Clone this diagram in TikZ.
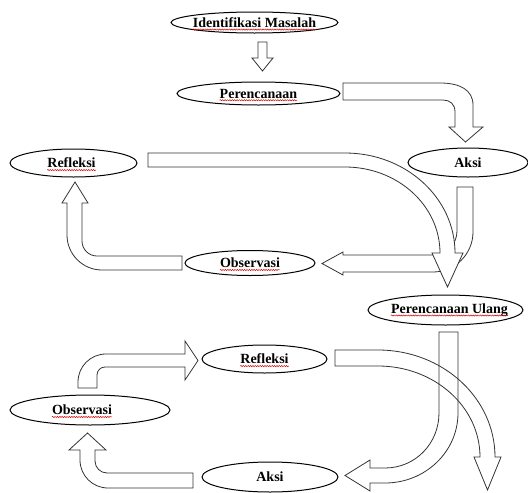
\documentclass[tikz,border=0pt]{standalone}
\usepackage{fontspec}
\setmainfont{Liberation Serif}
\usetikzlibrary{shapes.geometric,decorations.pathmorphing}
\tikzset{
  ell/.style={draw=black, line width=1pt, ellipse, inner sep=0pt},
  lbl/.style={inner sep=0pt, font=\bfseries\fontsize{14}{16}\selectfont},
  squig/.style={draw=red!85!black, line width=0.5pt, decorate, decoration={snake, amplitude=0.6pt, segment length=2.4pt}},
  blockarrow/.style={draw=black!80, line width=0.8pt, line join=miter},
}
\begin{document}
\begin{tikzpicture}[x=1pt,y=-1pt]
\useasboundingbox (0,0) rectangle (528,493);
% ellipses
\node[ell, minimum width=167pt, minimum height=21pt] (idm) at (254.5,22.5) {};
\node[ell, minimum width=163pt, minimum height=23pt] (per) at (258.5,93.5) {};
\node[ell, minimum width=120pt, minimum height=29pt] (aksi1) at (468,162.5) {};
\node[ell, minimum width=127pt, minimum height=28pt] (ref1) at (73.5,163) {};
\node[ell, minimum width=130pt, minimum height=25pt] (obs1) at (250,263) {};
\node[ell, minimum width=155pt, minimum height=30pt] (pu) at (445.5,310) {};
\node[ell, minimum width=125pt, minimum height=28pt] (ref2) at (264.5,359) {};
\node[ell, minimum width=160pt, minimum height=30pt] (obs2) at (90,410) {};
\node[ell, minimum width=136pt, minimum height=30pt] (aksi2) at (270,477) {};
% labels
\node[lbl] (tidm) at (idm) {Identifikasi Masalah};
\node[lbl] (tper) at (per) {Perencanaan};
\node[lbl] (taksi1) at (aksi1) {Aksi};
\node[lbl] (tref1) at ([xshift=-2pt]ref1.center) {Refleksi};
\node[lbl] (tobs1) at (obs1) {Observasi};
\node[lbl] (tpu) at ([xshift=4pt]pu.center) {Perencanaan Ulang};
\node[lbl] (tref2) at (ref2) {Refleksi};
\node[lbl] (tobs2) at ([xshift=-8pt]obs2.center) {Observasi};
\node[lbl] (taksi2) at (aksi2) {Aksi};
% spell-check squiggles
\foreach \t in {tidm,tper,tref1,tobs1,tpu,tref2,tobs2}{
  \draw[squig] ([yshift=-2.2pt]\t.base west) -- ([yshift=-2.2pt]\t.base east);
}
% Identifikasi -> Perencanaan
\draw[blockarrow] (258,42) -- (267,42) -- (267,58) -- (273,58) -- (262.5,71) -- (252,58) -- (258,58) -- cycle;
% Perencanaan -> Aksi
\draw[blockarrow] (343,83) -- (440,83) .. controls (460,83) and (473,90) .. (473,105) -- (473,127) -- (483,127) -- (465.5,142) -- (449,127) -- (455,127) -- (455,112) .. controls (455,104) and (450,100) .. (443,100) -- (343,100) -- cycle;
% Aksi -> Observasi (top)
\draw[blockarrow, fill=white] (457,187) -- (473,187) -- (473,232) .. controls (473,254) and (455,272) .. (433,272) -- (343,272) -- (343,275) -- (322,263.5) -- (343,252) -- (343,255) -- (433,255) .. controls (446.3,255) and (457,244.3) .. (457,231) -- cycle;
% Refleksi -> Perencanaan Ulang (big curved)
\draw[blockarrow, fill=white] (148,153) -- (345,153) .. controls (405.8,153) and (455,197.8) .. (455,253) -- (463,253) -- (447.5,287) -- (432,253) -- (440,253) .. controls (440,205.5) and (397.5,167) .. (345,167) -- (148,167) -- cycle;
% Observasi -> Refleksi (top)
\draw[blockarrow] (182,256) -- (97,256) .. controls (88.7,256) and (82,249.3) .. (82,241) -- (82,203) -- (88,203) -- (75,182) -- (62,203) -- (67,203) -- (67,235) .. controls (67,254.3) and (82.7,270) .. (102,270) -- (182,270) -- cycle;
% Refleksi (bottom) big curved arrow
\draw[blockarrow] (335,350) -- (378,350) .. controls (442.6,350) and (495,397.9) .. (495,457) -- (501,457) -- (487.5,490) -- (474,457) -- (480,457) .. controls (480,406.7) and (434.3,366) .. (378,366) -- (335,366) -- cycle;
% Perencanaan Ulang -> Aksi (bottom)
\draw[blockarrow] (439,332) -- (458,332) -- (458,413) .. controls (458,451.7) and (425.3,483) .. (385,483) -- (370,483) -- (370,491) -- (345,475.5) -- (370,460) -- (370,468) -- (385,468) .. controls (415.4,468) and (439,443.4) .. (439,413) -- cycle;
% Observasi -> Refleksi (bottom)
\draw[blockarrow] (78,388) -- (78,382) .. controls (78,366.5) and (90.5,354) .. (106,354) -- (185,354) -- (185,341) -- (198,360.5) -- (185,380) -- (185,367) -- (105,367) .. controls (100.6,367) and (97,370.6) .. (97,375) -- (97,388) -- cycle;
% Aksi -> Observasi (bottom)
\draw[blockarrow] (193,473) -- (107,473) .. controls (100.4,473) and (95,467.6) .. (95,461) -- (95,450) -- (106,450) -- (87.5,433) -- (69,450) -- (80,450) -- (80,460) .. controls (80,475.5) and (92.5,488) .. (108,488) -- (193,488) -- cycle;
\end{tikzpicture}
\end{document}
